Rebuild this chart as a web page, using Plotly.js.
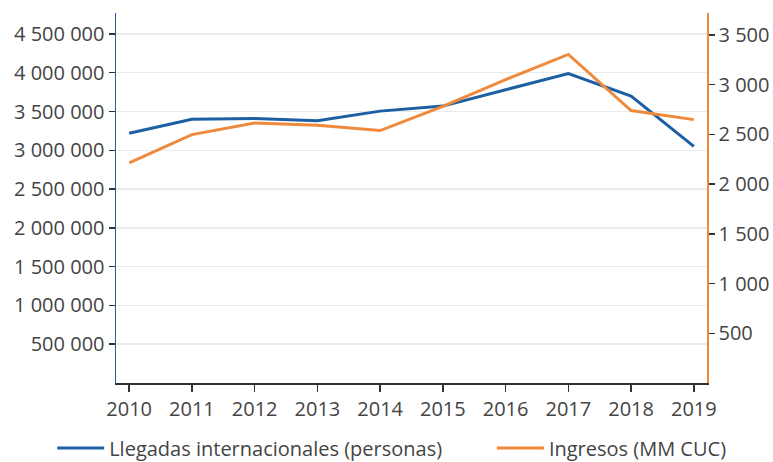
<!DOCTYPE html>
<html>
<head>
<meta charset="utf-8">
<script src="https://cdn.plot.ly/plotly-3.0.1.min.js"></script>
<style>html,body{margin:0;padding:0;background:#fff;}#chart{width:773px;height:462px;}</style>
</head>
<body>
<div id="chart"></div>
<script>
const years = [2010, 2011, 2012, 2013, 2014, 2015, 2016, 2017, 2018, 2019];
const llegadas = [3220000, 3400000, 3410000, 3380000, 3505000, 3570000, 3780000, 3990000, 3700000, 3050000];
const ingresos = [2212, 2497, 2615, 2591, 2538, 2782, 3051, 3303, 2739, 2648];
const leftTickVals = [500000, 1000000, 1500000, 2000000, 2500000, 3000000, 3500000, 4000000, 4500000];
const leftTickText = ["500 000", "1 000 000", "1 500 000", "2 000 000", "2 500 000", "3 000 000", "3 500 000", "4 000 000", "4 500 000"];
const rightTickVals = [500, 1000, 1500, 2000, 2500, 3000, 3500];
const rightTickText = ["500", "1 000", "1 500", "2 000", "2 500", "3 000", "3 500"];
const seriesNames = ["Llegadas internacionales (personas)", "Ingresos (MM CUC)"];

const BLUE = "#1c5fa3";
const ORANGE = "#ef8a3c";
const FONT = "Open Sans";
const TXT = "#444";

const traces = [
  {x: years, y: llegadas, name: seriesNames[0], type: "scatter", mode: "lines",
   line: {color: BLUE, width: 3}, yaxis: "y", legend: "legend"},
  {x: years, y: ingresos, name: seriesNames[1], type: "scatter", mode: "lines",
   line: {color: ORANGE, width: 3}, yaxis: "y2", legend: "legend2"}
];

const legendBase = {orientation: "h", xanchor: "left", y: -0.176, yanchor: "middle",
  font: {family: FONT, size: 20, color: TXT}, itemwidth: 47, bgcolor: "rgba(0,0,0,0)"};

const layout = {
  width: 773, height: 462,
  margin: {l: 116, r: 66, t: 13, b: 79, autoexpand: false},
  paper_bgcolor: "#fff", plot_bgcolor: "#fff",
  font: {family: FONT, size: 20, color: TXT},
  showlegend: true,
  legend: Object.assign({}, legendBase, {x: -0.108}),
  legend2: Object.assign({}, legendBase, {x: 0.636}),
  xaxis: {range: [2009.79, 2019.21], tickvals: years, ticktext: years.map(String),
          showgrid: false, zeroline: false, showline: true, linecolor: "#333", linewidth: 1.5,
          ticks: "outside", ticklen: 7, tickcolor: "#333", tickwidth: 1.5,
          tickfont: {family: FONT, size: 20, color: TXT}},
  yaxis: {range: [0, 4770000], tickvals: leftTickVals, ticktext: leftTickText,
          showgrid: true, gridcolor: "#ebebeb", gridwidth: 1.5, zeroline: false,
          showline: true, linecolor: BLUE, linewidth: 1.5,
          ticks: "outside", ticklen: 6, tickcolor: "#333", tickwidth: 1.5,
          tickfont: {family: FONT, size: 20, color: TXT}},
  yaxis2: {range: [0, 3720], tickvals: rightTickVals, ticktext: rightTickText,
           overlaying: "y", side: "right", showgrid: false, zeroline: false,
           showline: true, linecolor: ORANGE, linewidth: 1.5,
           ticks: "outside", ticklen: 6, tickcolor: "#333", tickwidth: 1.5,
           tickfont: {family: FONT, size: 20, color: TXT}}
};

Plotly.newPlot("chart", traces, layout, {displayModeBar: false, staticPlot: true});
</script>
</body>
</html>
